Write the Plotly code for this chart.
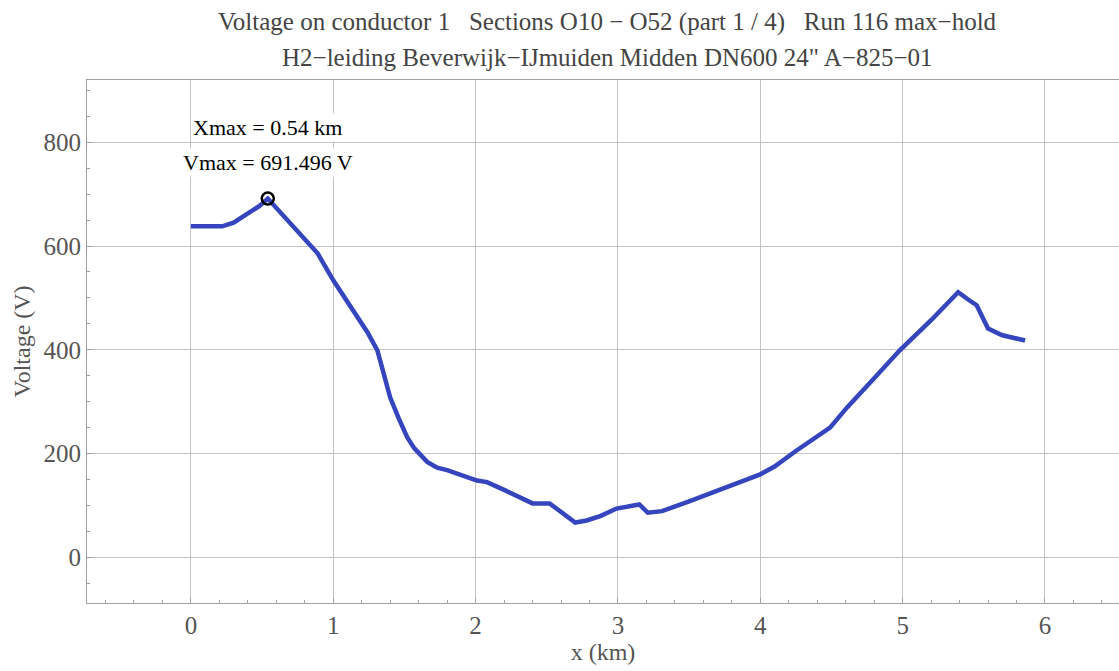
import plotly.graph_objects as go

x_km = [0.0, 0.22, 0.3, 0.41, 0.48, 0.54, 0.7, 0.77, 0.89, 1.0, 1.12, 1.24, 1.31, 1.35, 1.40, 1.46, 1.52,
        1.57, 1.61, 1.66, 1.73, 1.8,
        2.01, 2.08, 2.2, 2.4, 2.52, 2.70, 2.78, 2.88, 2.99, 3.13, 3.15, 3.21, 3.31, 3.5, 3.7, 3.9,
        4.0, 4.1, 4.25, 4.49, 4.61, 4.8, 4.98, 5.2, 5.39, 5.47, 5.52, 5.60, 5.70, 5.86]
voltage = [638, 638, 645, 663, 677, 691.496, 642, 620, 586, 534, 482, 434, 399, 360, 308, 268, 231,
           210, 197, 184, 173, 168,
           148, 145, 130, 104, 104, 67, 71, 80, 94, 100, 102, 86, 89, 108, 128, 148,
           160, 175, 205, 250, 289, 345, 399, 457, 511, 495, 486, 441, 428, 418]
x_max = 0.54
v_max = 691.496

title1 = "Voltage on conductor 1   Sections O10 − O52 (part 1 / 4)   Run 116 max−hold"
title2 = "H2−leiding Beverwijk−IJmuiden Midden DN600 24\" A−825−01"

font = "Liberation Serif"
grey = "#555555"

fig = go.Figure()
fig.add_trace(go.Scatter(x=x_km, y=voltage, mode="lines",
                         line=dict(color="#3545bd", width=4.5), showlegend=False))
fig.add_trace(go.Scatter(x=[x_max], y=[v_max], mode="markers",
                         marker=dict(symbol="circle-open", size=12, color="black",
                                     line=dict(width=2.5, color="black")),
                         showlegend=False))

fig.add_annotation(x=x_max, y=v_max, xref="x", yref="y", text=f"Xmax = {x_max} km",
                   showarrow=False, xanchor="center", yanchor="middle", yshift=71,
                   font=dict(family=font, size=22, color="black"), bgcolor="white")
fig.add_annotation(x=x_max, y=v_max, xref="x", yref="y", text=f"Vmax = {v_max} V",
                   showarrow=False, xanchor="center", yanchor="middle", yshift=36,
                   font=dict(family=font, size=22, color="black"), bgcolor="white")

fig.add_annotation(x=0.504, y=1, xref="paper", yref="paper", yshift=58, text=title1,
                   showarrow=False, xanchor="center", yanchor="middle",
                   font=dict(family=font, size=25, color="#444444"))
fig.add_annotation(x=0.504, y=1, xref="paper", yref="paper", yshift=23, text=title2,
                   showarrow=False, xanchor="center", yanchor="middle",
                   font=dict(family=font, size=25, color="#444444"))

fig.update_layout(
    width=1119, height=671,
    margin=dict(l=87, r=0, t=80, b=68),
    plot_bgcolor="white", paper_bgcolor="white",
    font=dict(family=font, color=grey),
    xaxis=dict(range=[-0.73, 6.52], tickvals=[0, 1, 2, 3, 4, 5, 6], showgrid=True,
               gridcolor="#c4c4c4", gridwidth=1, zeroline=False, showline=True,
               linecolor="#a0a0a0", linewidth=1, mirror=True, ticks="inside", ticklen=5,
               tickcolor="#a0a0a0", tickfont=dict(size=25, color=grey),
               minor=dict(dtick=0.2, ticks="inside", ticklen=3, tickcolor="#a0a0a0", showgrid=False),
               title=dict(text="x (km)", font=dict(size=24, color=grey), standoff=4)),
    yaxis=dict(range=[-88, 920], tickvals=[0, 200, 400, 600, 800], showgrid=True,
               gridcolor="#c4c4c4", gridwidth=1, zeroline=False, showline=True,
               linecolor="#a0a0a0", linewidth=1, mirror=True, ticks="inside", ticklen=5,
               tickcolor="#a0a0a0", tickfont=dict(size=25, color=grey),
               minor=dict(dtick=50, ticks="inside", ticklen=3, tickcolor="#a0a0a0", showgrid=False),
               title=dict(text="Voltage (V)", font=dict(size=24, color=grey), standoff=6)),
)

fig.write_html("out.html", config={"displayModeBar": False},
               post_script="document.body.style.margin='0px';")
